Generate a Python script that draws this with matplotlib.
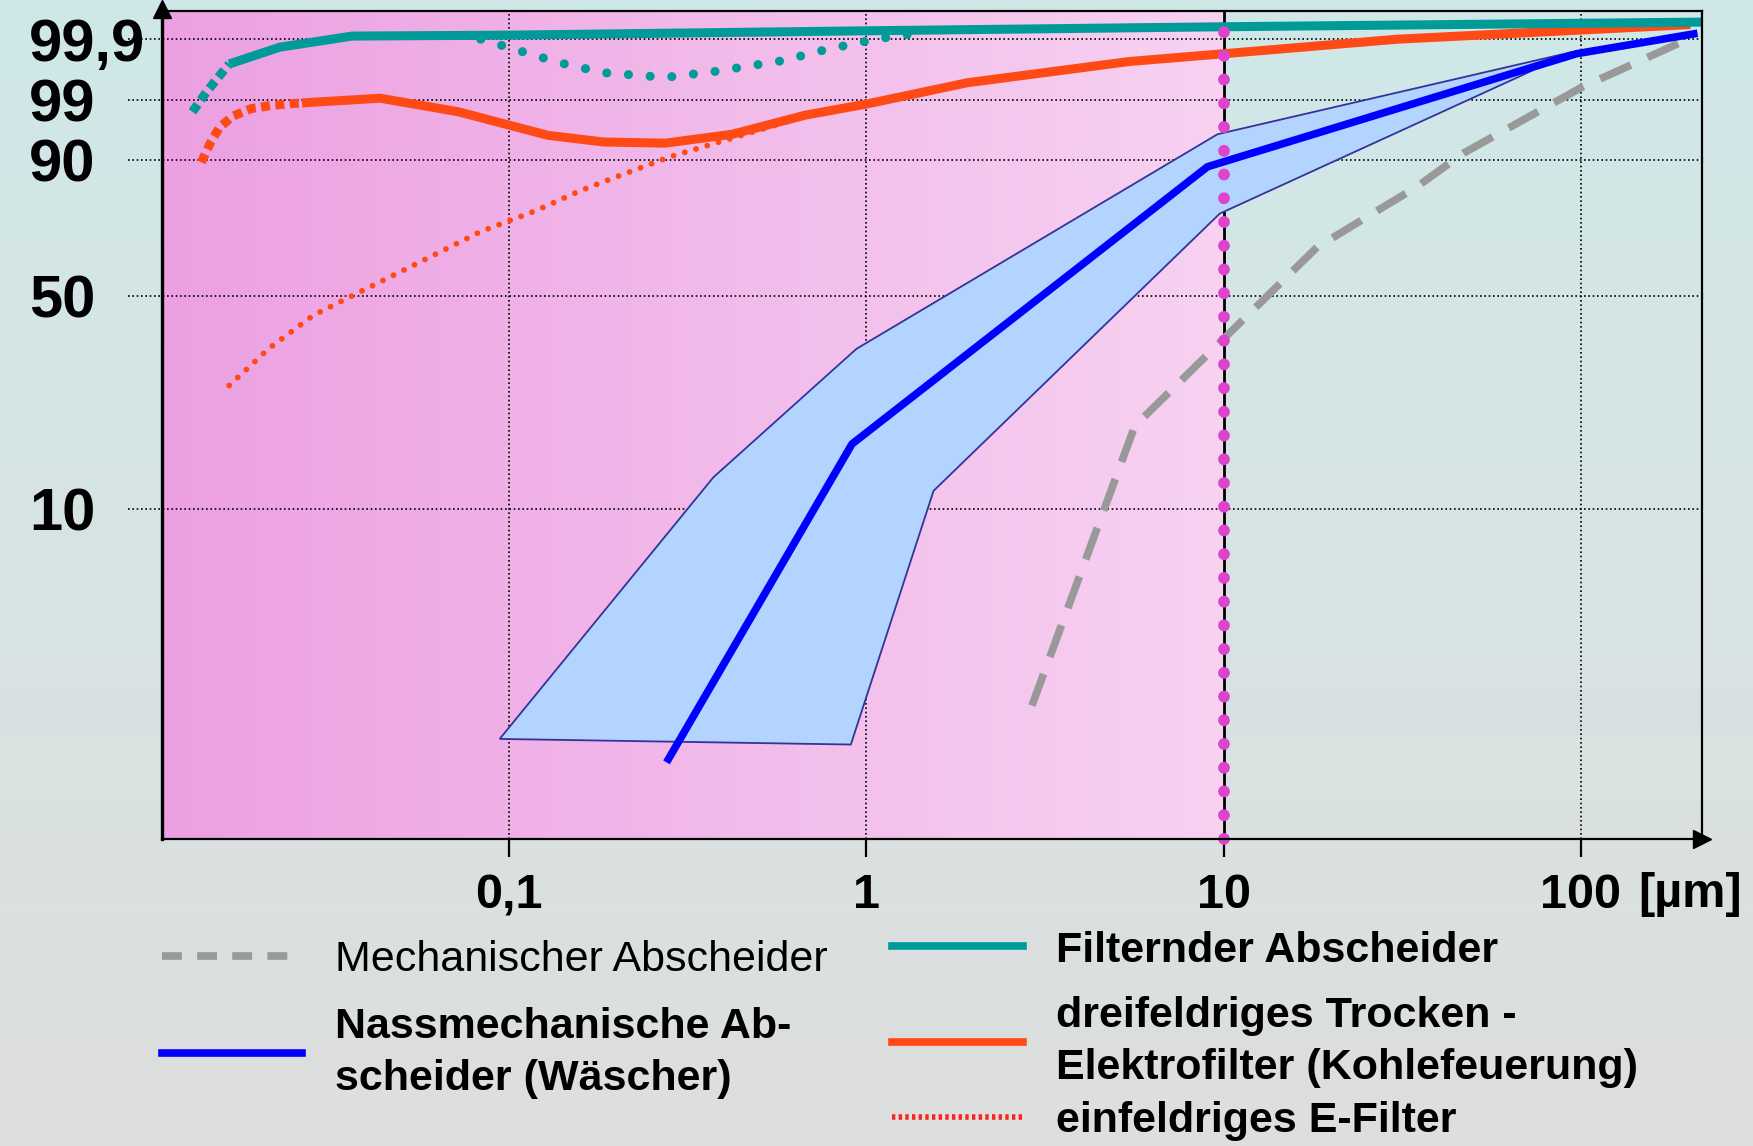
import numpy as np
import matplotlib
matplotlib.use("Agg")
import matplotlib.pyplot as plt
from matplotlib.lines import Line2D
from matplotlib.ticker import NullLocator

FONT = ["Liberation Sans Narrow", "Liberation Sans", "DejaVu Sans"]
plt.rcParams["font.family"] = FONT

# hand-spaced efficiency axis of the original sheet (value -> height)
Y_KNOT_VAL = [0, 10, 50, 90, 99, 99.9, 99.99]
Y_KNOT_POS = [0, 295, 485, 607, 661, 715, 740]

x_ticks = [0.1, 1, 10, 100]
x_tick_labels = ["0,1", "1", "10", "100"]
y_ticks = [10, 50, 90, 99, 99.9]
y_tick_labels = ["10", "50", "90", "99", "99,9"]

# Filternder Abscheider
filter_start_x = [0.01297, 0.01423, 0.01542, 0.01644]
filter_start_y = [97.17, 99.12, 99.35, 99.53]
filter_x = [0.01644, 0.02275, 0.0363, 0.1, 1, 10, 218]
filter_y = [99.53, 99.78, 99.91, 99.913, 99.927, 99.94, 99.955]
filter_dip_x = [0.0832, 0.1033, 0.1378, 0.1837, 0.2733, 0.378, 0.582, 0.777, 1.0, 1.197, 1.487]
filter_dip_y = [99.9, 99.75, 99.55, 99.4, 99.33, 99.42, 99.58, 99.75, 99.87, 99.91, 99.923]

# dreifeldriges Trocken-Elektrofilter
esp3_start_x = [0.01373, 0.01455, 0.01542, 0.0168, 0.019, 0.0219, 0.0263]
esp3_start_y = [89.3, 92.5, 94.8, 96.5, 97.67, 98.17, 98.5]
esp3_x = [0.0263, 0.0435, 0.0721, 0.1282, 0.1837, 0.2733, 0.421, 0.673, 1.0,
          1.912, 5.44, 10, 30.7, 202.6]
esp3_y = [98.5, 99.02, 97.17, 93.67, 92.67, 92.5, 93.83, 96.67, 98.33,
          99.25, 99.567, 99.683, 99.9, 99.947]

# einfeldriges E-Filter
esp1_x = [0.01644, 0.02116, 0.02824, 0.0377, 0.0581, 0.0832, 0.1193, 0.159,
          0.2123, 0.283, 0.4365, 0.673, 0.965]
esp1_y = [33.2, 40.1, 46.4, 51.0, 60.8, 69.0, 75.2, 81.1, 86.1, 90.5, 93.5, 96.5, 98.33]

# Nassmechanische Abscheider (Waescher), mean and range
wet_x = [0.279, 0.911, 9.01, 97.2, 207]
wet_y = [2.41, 22.2, 88.0, 99.683, 99.917]
wet_hi_x = [0.094, 0.3725, 0.937, 9.61, 93.0, 207]
wet_hi_y = [3.02, 15.9, 40.1, 93.83, 99.7, 99.92]
wet_lo_x = [0.904, 1.541, 9.75, 68.8, 93.0]
wet_lo_y = [2.85, 13.37, 74.26, 99.367, 99.7]

# Mechanischer Abscheider
mech_x = [2.905, 5.64, 10, 18.25, 34.7, 46.9, 100.3, 195.5]
mech_y = [4.03, 25.6, 42.0, 64.4, 82.1, 91.0, 99.18, 99.88]

# 10 um boundary
pm10_x = [10, 10]
pm10_y = [0, 99.95]

X_LIM = (0.01067, 217.8)
Y_LIM = (0, 99.99)

TEAL = "#009a99"
ORANGE = "#ff4a16"
BLUE = "#0000ff"
GRAY = "#999999"
MAGENTA = "#dd44cc"


def y_fwd(v):
    return np.interp(v, Y_KNOT_VAL, Y_KNOT_POS)


def y_inv(p):
    return np.interp(p, Y_KNOT_POS, Y_KNOT_VAL)


def add_legend(handles, labels, anchor, hlen, spacing):
    leg = fig.legend(handles, labels, loc="upper left", bbox_to_anchor=anchor,
                     frameon=False, prop={"size": 31, "weight": "bold"},
                     handlelength=hlen, handletextpad=0.77, labelspacing=spacing,
                     borderpad=0, borderaxespad=0)
    for t in leg.get_texts():
        t.set_linespacing(1.38)
    return leg


fig = plt.figure(figsize=(17.53, 11.46), dpi=100)

# figure background: teal-grey vertical gradient
bg = fig.add_axes([0, 0, 1, 1], zorder=-10)
grad = np.linspace(0, 1, 256)[:, None]
top_c = np.array([208, 232, 232]) / 255
bot_c = np.array([222, 222, 222]) / 255
bg.imshow(top_c + grad[..., None] * (bot_c - top_c), aspect="auto", extent=[0, 1, 0, 1])
bg.axis("off")

L, B, W, H = 0.0925, 0.2683, 0.8782, 0.7219
ax = fig.add_axes([L, B, W, H])
ax.set_facecolor("none")
ax.set_xscale("log")
ax.set_yscale("function", functions=(y_fwd, y_inv))
ax.set_xlim(*X_LIM)
ax.set_ylim(*Y_LIM)

# pink gradient behind the fine-dust region (< 10 um)
frac10 = (np.log10(10) - np.log10(X_LIM[0])) / (np.log10(X_LIM[1]) - np.log10(X_LIM[0]))
pk = fig.add_axes([L, B, W * frac10, H], zorder=-5)
hgrad = np.linspace(0, 1, 256)[None, :]
left_c = np.array([236, 160, 226]) / 255
right_c = np.array([247, 210, 241]) / 255
pk.imshow(left_c + hgrad[..., None] * (right_c - left_c), aspect="auto", extent=[0, 1, 0, 1])
pk.axis("off")

# grid
dots = (0, (1, 1.6))
for v in y_ticks:
    ax.axhline(v, xmin=-0.022, xmax=1, color="black", lw=1.2, ls=dots, clip_on=False, zorder=1)
for v in [0.1, 1, 100]:
    ax.axvline(v, color="black", lw=1.2, ls=dots, zorder=1)
ax.axvline(10, color="black", lw=2, zorder=1)

# range band of wet scrubbers
band_x = wet_hi_x + wet_x[::-1][:2] + wet_lo_x[::-1]
band_y = wet_hi_y + wet_y[::-1][:2] + wet_lo_y[::-1]
ax.fill(band_x, band_y, facecolor="#b3d4ff", edgecolor="#33339a", lw=1.3, zorder=2)

ax.plot(mech_x, mech_y, color=GRAY, lw=5.5, dashes=(4.4, 2.4), zorder=3)
ax.plot(wet_x, wet_y, color=BLUE, lw=5.5, zorder=4)

ax.plot(esp1_x, esp1_y, color=ORANGE, lw=4.2, ls=(0, (0.01, 2.0)),
        dash_capstyle="round", zorder=4)
ax.plot(esp3_start_x, esp3_start_y, color=ORANGE, lw=6.5, dashes=(1, 0.6), zorder=5)
ax.plot(esp3_x, esp3_y, color=ORANGE, lw=6.5, solid_capstyle="butt", zorder=5)

ax.plot(filter_dip_x, filter_dip_y, color=TEAL, lw=6.5, ls=(0, (0.01, 2.4)),
        dash_capstyle="round", zorder=5)
ax.plot(filter_start_x, filter_start_y, color=TEAL, lw=6.5, dashes=(1, 0.6), zorder=6)
ax.plot(filter_x, filter_y, color=TEAL, lw=6.5, solid_capstyle="butt", zorder=6)

ax.plot(pm10_x, pm10_y, color=MAGENTA, lw=8.5, ls=(0, (0.01, 2.0)),
        dash_capstyle="round", zorder=7, clip_on=False)

# axes frame with arrows
for name, sp in ax.spines.items():
    sp.set_linewidth(2.4 if name == "left" else 1.6)
    sp.set_color("black")
    sp.set_zorder(8)
ax.plot(0, 1.003, marker="^", ms=13, color="black", transform=ax.transAxes, clip_on=False, zorder=9)
ax.plot(1.0, 0, marker=">", ms=13, color="black", transform=ax.transAxes, clip_on=False, zorder=9)

# ticks
ax.set_xticks(x_ticks)
ax.set_xticklabels(x_tick_labels, fontsize=35, fontweight="bold")
ax.xaxis.set_minor_locator(NullLocator())
ax.tick_params(axis="x", direction="out", length=13, width=1.6, pad=12)
ax.set_yticks(y_ticks)
ax.set_yticklabels(y_tick_labels, fontsize=43, fontweight="bold")
ax.yaxis.set_minor_locator(NullLocator())
ax.tick_params(axis="y", length=0, pad=96)
for t in ax.get_yticklabels():
    t.set_horizontalalignment("left")
ax.text(0.9927, -0.068, "[µm]", transform=ax.transAxes, fontsize=35,
        fontweight="bold", ha="center", va="center")

# legends
h_mech = Line2D([], [], color=GRAY, lw=5.5, dashes=(2.6, 2.0))
h_wet = Line2D([], [], color=BLUE, lw=5.5)
leg1 = add_legend([h_mech, h_wet],
                  ["Mechanischer Abscheider", "Nassmechanische Ab-\nscheider (Wäscher)"],
                  (0.0925, 0.180), 3.25, 0.63)
leg1.get_texts()[0].set_fontweight("normal")

h_filter = Line2D([], [], color=TEAL, lw=5.5)
h_esp3 = Line2D([], [], color=ORANGE, lw=5.5)
h_esp1 = Line2D([], [], color="#ff2020", lw=4, ls=(0, (0.6, 0.6)))
add_legend([h_filter], ["Filternder Abscheider"], (0.509, 0.188), 3.04, 0.3)
add_legend([h_esp3, h_esp1],
           ["dreifeldriges Trocken -\nElektrofilter (Kohlefeuerung)", "einfeldriges E-Filter"],
           (0.509, 0.131), 3.04, 0.3)

fig.savefig("out.png", dpi=100)
